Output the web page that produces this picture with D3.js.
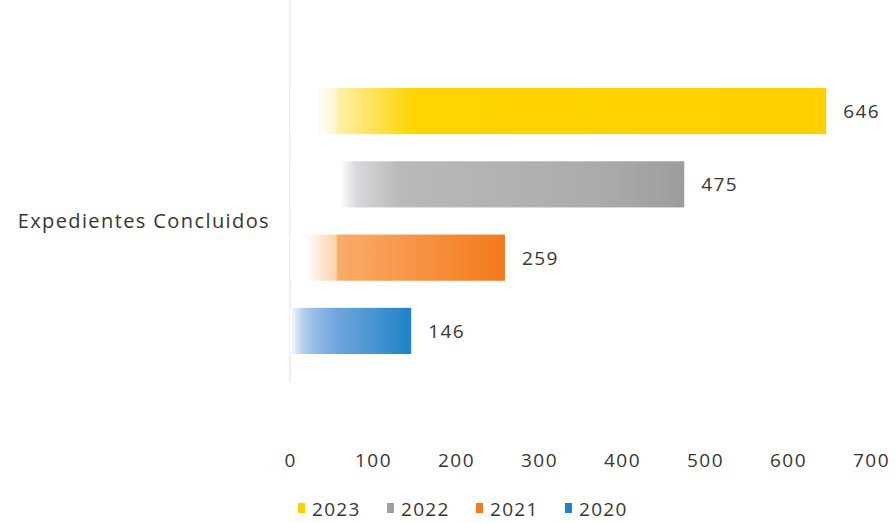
<!DOCTYPE html>
<html><head><meta charset="utf-8">
<script src="https://cdn.jsdelivr.net/npm/d3@7"></script>
<style>body{margin:0;background:#fff;} text{font-family:"Open Sans","Noto Sans",sans-serif;}</style>
</head><body><svg id="c" width="895" height="523"></svg>
<script>
const category = "Expedientes Concluidos";
const years = ["2023","2022","2021","2020"];
const values = [646, 475, 259, 146];
const xTicks = [0,100,200,300,400,500,600,700];
const colors = ["#FFD000","#A0A0A0","#F47A1C","#1E83C8"];
// gradient stops per bar: [offset, colour]
const gradStops = [
  [[0,"#fff"],[0.047,"#fff"],[0.086,"#FFF6D0"],[0.09,"#FFEFA8"],[0.23,"#FFD400"],[1,"#FFCF00"]],
  [[0,"#fff"],[0.127,"#fff"],[0.17,"#D8D8DC"],[0.28,"#B9B9B9"],[0.79,"#ABABAB"],[1,"#9D9D9D"]],
  [[0,"#fff"],[0.07,"#fff"],[0.214,"#FBD2AC"],[0.223,"#F9AC6A"],[0.6,"#F79244"],[1,"#F47A1C"]],
  [[0,"#fff"],[0.1,"#B8D2F0"],[0.2,"#94BCE8"],[0.39,"#70A5DC"],[1,"#1E83C8"]]
];

const svg = d3.select("#c");
const x = d3.scaleLinear().domain([0,700]).range([290,871]);
const y = d3.scaleBand().domain(years).range([74.4,367.6]).paddingInner(0.37).paddingOuter(0.185);

const defs = svg.append("defs");
years.forEach((yr,i)=>{
  const g = defs.append("linearGradient").attr("id","g"+yr).attr("x1","0").attr("x2","1").attr("y1","0").attr("y2","0");
  gradStops[i].forEach(s=>g.append("stop").attr("offset",s[0]).attr("stop-color",s[1]));
});

// vertical axis line
svg.append("line").attr("x1",x(0)).attr("x2",x(0)).attr("y1",0).attr("y2",382)
  .attr("stroke","#e4e4e4").attr("stroke-width",1.2);

// bars
svg.selectAll("rect.bar").data(years).join("rect").attr("class","bar")
  .attr("x",x(0)).attr("y",d=>y(d)).attr("height",y.bandwidth())
  .attr("width",(d,i)=>x(values[i])-x(0)).attr("fill",d=>"url(#g"+d+")");

// value labels
svg.selectAll("text.val").data(years).join("text").attr("class","val")
  .attr("x",(d,i)=>x(values[i])+17).attr("y",d=>y(d)+y.bandwidth()/2+7)
  .attr("font-size",19).attr("letter-spacing",1.4).attr("fill","#363636").text((d,i)=>values[i]);

// category label
svg.append("text").attr("x",270).attr("y",(y(years[0])+y(years[3])+y.bandwidth())/2+7)
  .attr("text-anchor","end").attr("font-size",20).attr("letter-spacing",1.4).attr("fill","#363636").text(category);

// x axis tick labels
const ax = svg.append("g").attr("transform","translate(0,467)")
  .call(d3.axisBottom(x).tickValues(xTicks).tickSize(0).tickPadding(0));
ax.select(".domain").remove();
ax.selectAll("text").attr("font-size",19).attr("letter-spacing",1.4).attr("fill","#363636").attr("dy","0")
  .style("font-family","'Open Sans','Noto Sans',sans-serif");

// legend
const legX = [298, 387, 476, 565];
const leg = svg.append("g");
years.forEach((yr,i)=>{
  leg.append("rect").attr("x",legX[i]).attr("y",503).attr("width",7).attr("height",10).attr("fill",colors[i]);
  leg.append("text").attr("x",legX[i]+14).attr("y",516).attr("font-size",19).attr("letter-spacing",1.3).attr("fill","#363636").text(yr);
});
</script></body></html>
